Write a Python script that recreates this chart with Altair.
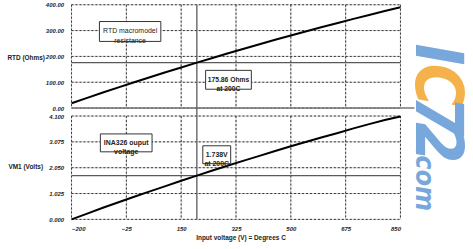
import altair as alt
import pandas as pd

# ---- data ----
temps = [-200, -150, -100, -50, 0, 50, 100, 150, 200, 250, 300, 350, 400,
         450, 500, 550, 600, 650, 700, 750, 800, 850]
rtd_ohms = [18.5, 39.7, 60.3, 80.3, 100.0, 119.4, 138.5, 157.3, 175.9, 194.1,
            212.1, 229.7, 247.1, 264.2, 281.0, 297.5, 313.7, 329.6, 345.3,
            360.6, 375.7, 390.5]
vm1_volts = [0.00, 0.23, 0.46, 0.68, 0.90, 1.11, 1.32, 1.53, 1.738, 1.94,
             2.14, 2.33, 2.52, 2.71, 2.90, 3.08, 3.26, 3.43, 3.61, 3.78,
             3.94, 4.08]
x_ticks = [-200, -25, 150, 325, 500, 675, 850]
rtd_ticks = [0, 100, 200, 300, 400]
vm1_ticks = [0, 1.025, 2.05, 3.075, 4.1]
cursor_temp = 200
cursor_rtd = 175.86
cursor_vm1 = 1.738

top_labels = ["RTD macromodel\nresistance", "175.86 Ohms\nat 200C"]
top_box_x1 = [-111, 228]
top_box_x2 = [85, 374]
top_box_y1 = [335, 146]
top_box_y2 = [258, 73]
bot_labels = ["INA326 ouput\nvoltage", "1.738V\nat 200C"]
bot_box_x1 = [-108, 219]
bot_box_x2 = [57, 308]
bot_box_y1 = [3.39, 2.92]
bot_box_y2 = [2.68, 2.21]

FONT = "Liberation Sans"
GRAY = "#5a5a5a"
W, H = 331, 104

curve = pd.DataFrame({"t": temps, "rtd": rtd_ohms, "vm1": vm1_volts})

xscale = alt.Scale(domain=[-200, 850], nice=False, zero=False)
x_top = alt.X("t:Q", scale=xscale,
              axis=alt.Axis(values=x_ticks, labels=False, ticks=False,
                            domain=False, title=None, grid=False))
x_bot = alt.X("t:Q", scale=xscale,
              axis=alt.Axis(values=x_ticks, ticks=False, domain=False,
                            title="Input voltage (V) = Degrees C",
                            labelPadding=6, titlePadding=3, titleX=170,
                            titleAlign="center", grid=False))
y_top = alt.Y("rtd:Q", scale=alt.Scale(domain=[0, 400], nice=False),
              axis=alt.Axis(values=rtd_ticks, format=".2f", ticks=False,
                            domain=False, labelPadding=8,
                            title="RTD (Ohms)", titleAngle=0,
                            titleAlign="left", titleBaseline="middle",
                            titleX=-65, titleY=53, grid=False))
y_bot = alt.Y("vm1:Q", scale=alt.Scale(domain=[0, 4.1], nice=False),
              axis=alt.Axis(values=vm1_ticks, format=".3f", ticks=False,
                            domain=False, labelPadding=8,
                            title="VM1 (Volts)", titleAngle=0,
                            titleAlign="left", titleBaseline="middle",
                            titleX=-64, titleY=51, grid=False))


def mid(a, b):
    return [(p + q) / 2 for p, q in zip(a, b)]


def grid_layers(x_enc, y_enc, yfield, yticks):
    out = []
    for color, dash in (("#cfcfcf", None), ("#333333", [2, 2])):
        kw = dict(color=color, strokeWidth=1)
        if dash:
            kw["strokeDash"] = dash
        out.append(alt.Chart(pd.DataFrame({"t": x_ticks})).mark_rule(**kw).encode(
            x=x_enc, y=alt.value(0), y2=alt.value(H)))
        out.append(alt.Chart(pd.DataFrame({yfield: yticks})).mark_rule(**kw).encode(
            y=y_enc, x=alt.value(0), x2=alt.value(W)))
    return out


# ---------- top panel ----------
top_line = alt.Chart(curve).mark_line(color="black", strokeWidth=2).encode(x=x_top, y=y_top)
top_sep = alt.Chart(pd.DataFrame({"rtd": [0]})).mark_rule(
    color="#777", strokeWidth=1.5).encode(x=alt.value(0), x2=alt.value(345), y=y_top)
top_hcur = alt.Chart(pd.DataFrame({"t": [-200], "t2": [850], "rtd": [cursor_rtd]})).mark_rule(
    color=GRAY, strokeWidth=1.3).encode(x=x_top, x2="t2:Q", y=y_top)
top_vcur = alt.Chart(pd.DataFrame({"t": [cursor_temp]})).mark_rule(
    color=GRAY, strokeWidth=1.3).encode(x=x_top, y=alt.value(0), y2=alt.value(H + 4))
top_boxdf = pd.DataFrame({"t": top_box_x1, "t2": top_box_x2, "rtd": top_box_y1,
                          "rtd2": top_box_y2})
top_txtdf = pd.DataFrame({"t": mid(top_box_x1, top_box_x2),
                          "rtd": mid(top_box_y1, top_box_y2), "label": top_labels})
top_box = alt.Chart(top_boxdf).mark_rect(fill="white", stroke="#333", strokeWidth=1).encode(
    x=x_top, x2="t2:Q", y=y_top, y2="rtd2:Q")
top_txt1 = alt.Chart(top_txtdf.iloc[[0]]).mark_text(
    font=FONT, fontSize=7, lineBreak="\n", lineHeight=10, color="#222",
    baseline="middle").encode(x=x_top, y=y_top, text="label:N")
top_txt2 = alt.Chart(top_txtdf.iloc[[1]]).mark_text(
    font=FONT, fontSize=6.8, fontWeight="bold", lineBreak="\n", lineHeight=9, color="#222",
    baseline="middle").encode(x=x_top, y=y_top, text="label:N")

WMF = "Liberation Sans Narrow, DejaVu Sans Condensed, Liberation Sans"
BLUE = "#78a7db"
ORANGE = "#f5b24a"


def wm(txt, ypos, color, size):
    return alt.Chart(pd.DataFrame({"s": [txt]})).mark_text(
        font=WMF, fontSize=size, fontWeight="bold", fontStyle="italic", angle=90,
        align="center", baseline="alphabetic", color=color).encode(
        x=alt.value(347), y=alt.value(ypos), text="s:N")


watermark = [wm("I", 50, BLUE, 66), wm("C", 81, ORANGE, 66), wm("7", 112, BLUE, 66),
             wm("2", 139, BLUE, 66), wm(".com", 175, BLUE, 27)]

top = alt.layer(*grid_layers(x_top, y_top, "rtd", rtd_ticks), top_sep, top_hcur,
                top_vcur, top_line, top_box, top_txt1, top_txt2,
                *watermark).properties(width=W, height=H)

# ---------- bottom panel ----------
bot_line = alt.Chart(curve).mark_line(color="black", strokeWidth=2).encode(x=x_bot, y=y_bot)
bot_hcur = alt.Chart(pd.DataFrame({"t": [-200], "t2": [850], "vm1": [cursor_vm1]})).mark_rule(
    color=GRAY, strokeWidth=1.3).encode(x=x_bot, x2="t2:Q", y=y_bot)
bot_vcur = alt.Chart(pd.DataFrame({"t": [cursor_temp]})).mark_rule(
    color=GRAY, strokeWidth=1.3).encode(x=x_bot, y=alt.value(-4), y2=alt.value(H))
bot_boxdf = pd.DataFrame({"t": bot_box_x1, "t2": bot_box_x2, "vm1": bot_box_y1,
                          "vm12": bot_box_y2})
bot_txtdf = pd.DataFrame({"t": mid(bot_box_x1, bot_box_x2),
                          "vm1": mid(bot_box_y1, bot_box_y2), "label": bot_labels})
bot_box = alt.Chart(bot_boxdf).mark_rect(fill="white", stroke="#333", strokeWidth=1).encode(
    x=x_bot, x2="t2:Q", y=y_bot, y2="vm12:Q")
bot_txt = alt.Chart(bot_txtdf).mark_text(
    font=FONT, fontSize=7, fontWeight="bold", lineBreak="\n", lineHeight=9, color="#222",
    baseline="middle").encode(x=x_bot, y=y_bot, text="label:N")

bottom = alt.layer(*grid_layers(x_bot, y_bot, "vm1", vm1_ticks), bot_hcur, bot_vcur,
                   bot_line, bot_box, bot_txt).properties(width=W, height=H)

chart = alt.vconcat(top, bottom, spacing=8, bounds="flush").properties(
    padding={"left": 7, "top": 1, "right": 4, "bottom": 0},
    background="white",
).configure_view(strokeWidth=0).configure_axis(
    labelFont=FONT, labelFontSize=6, labelFontWeight="bold", labelFontStyle="italic",
    labelColor="#222", titleFont=FONT, titleFontSize=6.5, titleFontWeight="bold",
    titleColor="#222",
)

chart.save("out.html", embed_options={"renderer": "svg", "actions": False})
